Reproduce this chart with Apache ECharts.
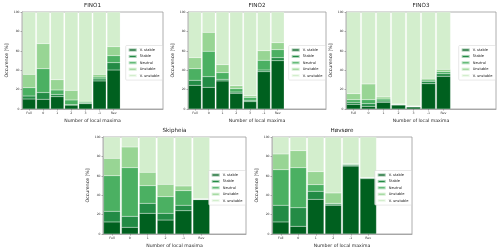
<!DOCTYPE html>
<html><head><meta charset="utf-8">
<script src="https://cdn.jsdelivr.net/npm/echarts@6/dist/echarts.min.js"></script>
<style>html,body{margin:0;padding:0;background:#fff}#c{width:500px;height:250px}</style>
</head><body><div id="c"></div>
<script>
const classNames = ['V. stable', 'Stable', 'Neutral', 'Unstable', 'V. unstable'];
const catsTop = ['Full', '0', '1', '2', '3', '-1', 'Rev'];
const catsBottom = ['Full', '0', '1', '2', '-1', 'Rev'];
const yTicks = [0, 20, 40, 60, 80, 100];

// FINO1
const fino1VStable   = [10.3, 10.0, 12.7, 4.0, 5.5, 28.9, 40.2];
const fino1Stable    = [3.1, 7.0, 2.3, 0.5, 0.7, 2.1, 7.6];
const fino1Neutral   = [8.6, 24.6, 4.6, 4.8, 1.0, 2.0, 7.2];
const fino1Unstable  = [13.7, 25.8, 10.6, 9.9, 1.0, 2.7, 9.3];
const fino1VUnstable = [64.3, 32.6, 69.8, 80.8, 91.8, 64.3, 35.7];
// FINO2
const fino2VStable   = [24.4, 22.3, 28.9, 16.2, 7.6, 38.5, 49.8];
const fino2Stable    = [5.2, 11.0, 1.7, 1.3, 1.3, 1.7, 3.1];
const fino2Neutral   = [12.0, 26.2, 6.9, 3.5, 3.1, 10.0, 8.3];
const fino2Unstable  = [11.3, 19.5, 8.2, 3.0, 1.7, 9.9, 7.2];
const fino2VUnstable = [47.1, 21.0, 54.3, 76.0, 86.3, 39.9, 31.6];
// FINO3
const fino3VStable   = [4.8, 2.7, 6.9, 4.1, 2.1, 26.1, 33.7];
const fino3Stable    = [2.1, 2.8, 1.3, 0.4, 0.3, 2.4, 2.7];
const fino3Neutral   = [2.7, 4.1, 2.1, 0.3, 0.3, 1.4, 2.1];
const fino3Unstable  = [6.2, 16.2, 2.1, 0.4, 0.4, 1.7, 2.4];
const fino3VUnstable = [84.2, 74.2, 87.6, 94.8, 96.9, 68.4, 59.1];
// Skipheia
const skipVStable   = [12.4, 6.9, 21.3, 14.4, 24.0, 35.4];
const skipStable    = [11.0, 11.3, 10.3, 6.9, 5.6, 0.3];
const skipNeutral   = [36.7, 50.2, 18.2, 17.2, 15.1, 0.3];
const skipUnstable  = [17.9, 21.3, 13.8, 12.7, 4.8, 0.4];
const skipVUnstable = [22.0, 10.3, 36.4, 48.8, 50.5, 63.6];
// Høvsøre
const hovsVStable   = [12.4, 7.9, 35.7, 29.6, 70.1, 57.0];
const hovsStable    = [17.2, 19.2, 8.3, 1.3, 1.0, 0.7];
const hovsNeutral   = [36.7, 41.3, 6.9, 0.7, 0.7, 0.3];
const hovsUnstable  = [16.2, 17.5, 13.4, 10.7, 0.7, 0.4];
const hovsVUnstable = [17.5, 14.1, 35.7, 57.7, 27.5, 41.6];

const colors = ['#00601f', '#238b45', '#4bb062', '#98d594', '#d3eecd'];

const panels = [
  {title: 'FINO1', cats: catsTop, extra: 3, left: 22, top: 12, width: 141, height: 97,
   vals: [fino1VStable, fino1Stable, fino1Neutral, fino1Unstable, fino1VUnstable]},
  {title: 'FINO2', cats: catsTop, extra: 3, left: 188, top: 12, width: 138, height: 97,
   vals: [fino2VStable, fino2Stable, fino2Neutral, fino2Unstable, fino2VUnstable]},
  {title: 'FINO3', cats: catsTop, extra: 3, left: 346, top: 12, width: 150, height: 97,
   vals: [fino3VStable, fino3Stable, fino3Neutral, fino3Unstable, fino3VUnstable]},
  {title: 'Skipheia', cats: catsBottom, extra: 2, left: 103, top: 137, width: 143, height: 97,
   vals: [skipVStable, skipStable, skipNeutral, skipUnstable, skipVUnstable]},
  {title: 'Høvsøre', cats: catsBottom, extra: 2, left: 272, top: 137, width: 140, height: 97,
   vals: [hovsVStable, hovsStable, hovsNeutral, hovsUnstable, hovsVUnstable]}
];

const font = 'DejaVu Sans';
const option = {animation: false, backgroundColor: '#fff',
  grid: [], xAxis: [], yAxis: [], series: [], title: [], legend: []};

panels.forEach((p, i) => {
  option.grid.push({left: p.left, top: p.top, width: p.width, height: p.height,
    show: true, borderColor: '#9a9a9a', borderWidth: 0.8, backgroundColor: 'transparent'});
  const cats = p.cats.concat(Array.from({length: p.extra}, (_, k) => ' '.repeat(k + 1)));
  option.xAxis.push({type: 'category', gridIndex: i, data: cats,
    name: 'Number of local maxima', nameLocation: 'middle', nameGap: 9,
    nameTextStyle: {fontFamily: font, fontSize: 4.6, color: '#222'},
    axisLine: {show: true, lineStyle: {color: '#9a9a9a', width: 0.8}},
    axisTick: {show: true, alignWithLabel: true, length: 1.5, lineStyle: {color: '#666', width: 0.5},
      interval: (idx) => idx < p.cats.length},
    axisLabel: {fontFamily: font, fontSize: 3.2, color: '#333', margin: 2.5, interval: 0},
    splitLine: {show: false}});
  option.yAxis.push({type: 'value', gridIndex: i, min: 0, max: 100, interval: 20,
    name: 'Occurence [%]', nameLocation: 'middle', nameGap: 13,
    nameTextStyle: {fontFamily: font, fontSize: 4.6, color: '#222'},
    axisLine: {show: true, lineStyle: {color: '#9a9a9a', width: 0.8}},
    axisTick: {show: true, length: 1.5, lineStyle: {color: '#666', width: 0.5}},
    axisLabel: {fontFamily: font, fontSize: 3, color: '#333', margin: 2.5},
    splitLine: {show: false}});
  option.title.push({text: p.title, left: p.left + p.width / 2, top: p.top - 9, textAlign: 'center',
    padding: 0, textStyle: {fontFamily: font, fontSize: 5.6, fontWeight: 'normal', color: '#222'}});
  p.vals.forEach((v, k) => {
    option.series.push({type: 'bar', name: classNames[k], xAxisIndex: i, yAxisIndex: i,
      stack: 'p' + i, data: v, barCategoryGap: '7%',
      itemStyle: {color: colors[k], borderColor: 'rgba(255,255,255,0.6)', borderWidth: 0.3}});
  });
  option.legend.push({data: classNames, orient: 'vertical',
    right: 500 - (p.left + p.width) + 0.5, top: p.top + p.height / 2 - 15,
    itemWidth: 8, itemHeight: 3, itemGap: 1.4, padding: [2, 3, 2, 2],
    backgroundColor: 'rgba(255,255,255,0.85)', borderColor: '#d0d0d0', borderWidth: 0.5, borderRadius: 1,
    icon: 'rect', selectedMode: false,
    textStyle: {fontFamily: font, fontSize: 3.6, color: '#222', lineHeight: 4.6, padding: [0, 0, 0, -2]}});
});

const chart = echarts.init(document.getElementById('c'), null, {renderer: 'canvas'});
chart.setOption(option);
</script></body></html>
